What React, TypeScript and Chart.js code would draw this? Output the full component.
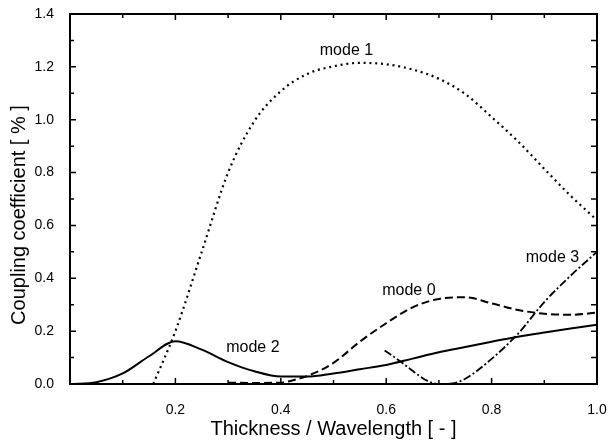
import React, { useEffect, useRef } from 'react';
import { Chart, registerables } from 'chart.js';
Chart.register(...registerables);

// ---- data ----
const MODE0_X = [0.3, 0.35, 0.4, 0.425, 0.45, 0.5, 0.55, 0.6, 0.65, 0.7, 0.75, 0.8, 0.85, 0.9, 0.95, 1.0];
const MODE0_Y = [0.005, 0.004, 0.005, 0.015, 0.03, 0.08, 0.16, 0.23, 0.29, 0.322, 0.328, 0.305, 0.28, 0.266, 0.262, 0.27];

const MODE1_X = [0.158, 0.2, 0.25, 0.3, 0.35, 0.4, 0.45, 0.5, 0.55, 0.6, 0.65, 0.7, 0.75, 0.8, 0.85, 0.9, 0.95, 1.0];
const MODE1_Y = [0, 0.2, 0.5, 0.8, 0.995, 1.108, 1.173, 1.202, 1.215, 1.21, 1.19, 1.155, 1.097, 1.01, 0.918, 0.814, 0.712, 0.62];

const MODE2_X = [0, 0.05, 0.1, 0.15, 0.2, 0.25, 0.3, 0.35, 0.4, 0.45, 0.5, 0.55, 0.6, 0.65, 0.7, 0.75, 0.8, 0.85, 0.9, 0.95, 1.0];
const MODE2_Y = [0, 0.007, 0.04, 0.105, 0.162, 0.13, 0.083, 0.048, 0.028, 0.028, 0.04, 0.056, 0.072, 0.096, 0.12, 0.14, 0.16, 0.179, 0.195, 0.21, 0.224];

const MODE3_X = [0.597, 0.625, 0.65, 0.675, 0.7, 0.725, 0.75, 0.8, 0.85, 0.9, 0.95, 1.0];
const MODE3_Y = [0.127, 0.088, 0.05, 0.015, 0.0, 0.002, 0.02, 0.095, 0.19, 0.31, 0.41, 0.5];

const MODE_NAMES = ['mode 0', 'mode 1', 'mode 2', 'mode 3'];

const X_TICKS = [0, 0.2, 0.4, 0.6, 0.8, 1.0];
const X_TICK_LABELS = ['', '0.2', '0.4', '0.6', '0.8', '1.0'];
const X_MINOR = [0.1, 0.3, 0.5, 0.7, 0.9];
const Y_TICKS = [0, 0.2, 0.4, 0.6, 0.8, 1.0, 1.2, 1.4];
const Y_TICK_LABELS = ['0.0', '0.2', '0.4', '0.6', '0.8', '1.0', '1.2', '1.4'];
const Y_MINOR = [0.1, 0.3, 0.5, 0.7, 0.9, 1.1, 1.3];

const X_TITLE = 'Thickness / Wavelength [ - ]';
const Y_TITLE = 'Coupling coefficient [ % ]';

// label anchor positions (data coordinates), in MODE_NAMES order
const LABEL_AT_X = [0.643, 0.5246, 0.347, 0.9155];
const LABEL_AT_Y = [0.337, 1.245, 0.122, 0.463];

const FONT = '"Liberation Sans", Arial, Helvetica, sans-serif';

const toPoints = (xs: number[], ys: number[]) => xs.map((x, i) => ({ x, y: ys[i] }));

const decorPlugin = {
  id: 'decor',
  afterDatasetsDraw(chart: any) {
    const { ctx, chartArea: a, scales } = chart;
    const xs = scales.x;
    const ys = scales.y;
    ctx.save();
    ctx.strokeStyle = '#000';
    ctx.lineWidth = 1.5;
    ctx.beginPath();
    const xAll = X_TICKS.map((v) => [v, 6]).concat(X_MINOR.map((v) => [v, 4]));
    xAll.forEach(([v, len]) => {
      if (v <= 0 || v >= 1) return;
      const p = xs.getPixelForValue(v);
      ctx.moveTo(p, a.bottom);
      ctx.lineTo(p, a.bottom - len);
      ctx.moveTo(p, a.top);
      ctx.lineTo(p, a.top + len);
    });
    const yAll = Y_TICKS.map((v) => [v, 6]).concat(Y_MINOR.map((v) => [v, 4]));
    yAll.forEach(([v, len]) => {
      if (v <= 0 || v >= 1.4) return;
      const p = ys.getPixelForValue(v);
      ctx.moveTo(a.left, p);
      ctx.lineTo(a.left + len, p);
      ctx.moveTo(a.right, p);
      ctx.lineTo(a.right - 6, p);
    });
    ctx.stroke();
    ctx.lineWidth = 2;
    ctx.strokeRect(a.left, a.top, a.right - a.left, a.bottom - a.top);

    ctx.fillStyle = '#000';
    ctx.font = `16px ${FONT}`;
    ctx.textAlign = 'center';
    ctx.textBaseline = 'alphabetic';
    MODE_NAMES.forEach((name, i) => {
      ctx.fillText(name, xs.getPixelForValue(LABEL_AT_X[i]), ys.getPixelForValue(LABEL_AT_Y[i]));
    });

    ctx.font = `20px ${FONT}`;
    ctx.fillText(X_TITLE, (a.left + a.right) / 2, a.bottom + 51);
    ctx.save();
    ctx.translate(a.left - 45, (a.top + a.bottom) / 2 + 16);
    ctx.rotate(-Math.PI / 2);
    ctx.fillText(Y_TITLE, 0, 0);
    ctx.restore();
    ctx.restore();
  },
};

export default function App() {
  const ref = useRef<HTMLCanvasElement>(null);
  useEffect(() => {
    if (!ref.current) return;
    const common = {
      pointRadius: 0,
      borderColor: '#000',
      backgroundColor: '#000',
      fill: false,
      cubicInterpolationMode: 'monotone' as const,
    };
    const chart = new Chart(ref.current, {
      type: 'line',
      data: {
        datasets: [
          { ...common, label: MODE_NAMES[0], data: toPoints(MODE0_X, MODE0_Y), borderWidth: 2, borderDash: [8, 4] },
          { ...common, label: MODE_NAMES[1], data: toPoints(MODE1_X, MODE1_Y), borderWidth: 2.2, borderDash: [2, 3.8] },
          { ...common, label: MODE_NAMES[2], data: toPoints(MODE2_X, MODE2_Y), borderWidth: 2 },
          { ...common, label: MODE_NAMES[3], data: toPoints(MODE3_X, MODE3_Y), borderWidth: 1.8, borderDash: [8, 2.5, 2, 2.5] },
        ],
      },
      options: {
        responsive: false,
        animation: false,
        events: [],
        layout: { padding: { top: 14, right: 14, left: 0, bottom: 0 } },
        plugins: { legend: { display: false }, tooltip: { enabled: false }, title: { display: false } },
        scales: {
          x: {
            type: 'linear',
            min: 0,
            max: 1,
            grid: { display: false },
            border: { display: false },
            afterBuildTicks: (s: any) => { s.ticks = X_TICKS.map((v) => ({ value: v })); },
            afterFit: (s: any) => { s.height = 57; s.paddingLeft = 0; s.paddingRight = 0; },
            ticks: {
              autoSkip: false,
              maxRotation: 0,
              padding: 10,
              color: '#000',
              font: { family: FONT, size: 14 },
              callback: (_v: any, i: number) => X_TICK_LABELS[i],
            },
          },
          y: {
            type: 'linear',
            min: 0,
            max: 1.4,
            grid: { display: false },
            border: { display: false },
            afterBuildTicks: (s: any) => { s.ticks = Y_TICKS.map((v) => ({ value: v })); },
            afterFit: (s: any) => { s.width = 70; s.paddingTop = 0; s.paddingBottom = 0; },
            ticks: {
              autoSkip: false,
              padding: 8,
              color: '#000',
              font: { family: FONT, size: 14 },
              callback: (_v: any, i: number) => Y_TICK_LABELS[i],
            },
          },
        },
      },
      plugins: [decorPlugin],
    } as any);
    return () => chart.destroy();
  }, []);
  return (
    <div style={{ position: 'fixed', left: 0, top: 0, width: 611, height: 441, background: '#fff' }}>
      <canvas ref={ref} width={611} height={441} style={{ display: 'block' }} />
    </div>
  );
}
